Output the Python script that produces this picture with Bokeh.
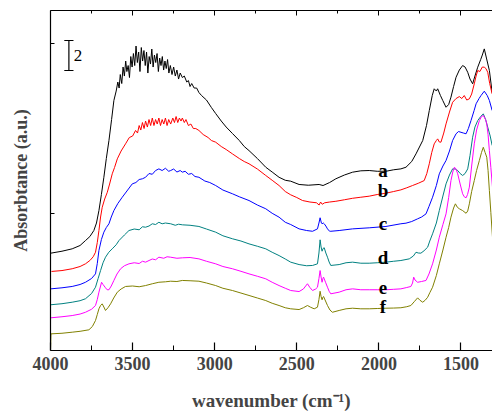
from bokeh.plotting import figure
from bokeh.models import Range1d, FixedTicker, LinearAxis
from bokeh.embed import file_html
from bokeh.resources import INLINE
from bokeh.core.properties import value

# ---------------- data (wavenumber in cm^-1, absorbance in a.u., stacked) ----------------
wn_a = [3998, 3930, 3868, 3820, 3787, 3760, 3736, 3720, 3705, 3690, 3675, 3660, 3644, 3628, 3614,
        3600, 3590, 3582, 3575, 3566, 3558, 3550, 3542, 3535, 3527, 3519, 3511, 3503, 3495, 3487,
        3479, 3471, 3463, 3455, 3447, 3439, 3431, 3423, 3415, 3407, 3399, 3391, 3383, 3375, 3367,
        3359, 3351, 3343, 3335, 3327, 3319, 3311, 3303, 3295, 3287, 3279, 3270, 3260, 3250, 3240,
        3230, 3220, 3210, 3197, 3185, 3170, 3160, 3150, 3140, 3125, 3110, 3096, 3080, 3050, 3020,
        2994, 2960, 2930, 2892, 2850, 2820, 2791, 2740, 2689, 2650, 2608, 2570, 2537, 2486, 2430,
        2364, 2340, 2300, 2262, 2210, 2160, 2110, 2059, 2010, 1957, 1910, 1866, 1835, 1800, 1774,
        1733, 1710, 1693, 1675, 1663, 1650, 1642, 1625, 1611, 1591, 1575, 1561, 1545, 1530, 1510,
        1490, 1475, 1459, 1445, 1429, 1415, 1398, 1380, 1370, 1358, 1345, 1327, 1310]
abs_a = [6.49, 6.62, 6.78, 7.0, 7.33, 7.6, 8.0, 8.5, 9.33, 10.4, 11.55, 12.8, 14.0, 15.4, 16.67,
         17.3, 17.9, 17.5, 18.4, 17.8, 18.9, 18.3, 19.3, 18.6, 19.0, 18.2, 19.6, 18.9, 19.8, 19.0,
         20.3, 19.2, 19.9, 18.6, 20.2, 19.3, 20.0, 19.0, 19.9, 18.5, 19.6, 19.1, 20.1, 18.9, 19.7,
         19.2, 19.8, 18.6, 19.5, 19.0, 19.6, 18.7, 19.3, 18.8, 19.4, 18.5, 19.0, 18.4, 18.9, 18.3,
         18.7, 18.1, 18.5, 18.2, 18.3, 17.9, 18.0, 17.6, 17.8, 17.5, 17.5, 17.2, 17.0, 16.7, 16.2,
         15.8, 15.3, 14.9, 14.47, 14.0, 13.6, 13.33, 12.8, 12.22, 11.9, 11.55, 11.35, 11.29, 11.07, 11.02,
         11.07, 11.0, 11.2, 11.45, 11.7, 11.89, 11.98, 12.0, 11.95, 11.95, 12.05, 12.11, 12.22, 12.6, 13.11,
         14.0, 15.0, 16.0, 17.0, 17.45, 17.3, 17.45, 17.0, 16.67, 16.22, 16.4, 16.89, 17.6, 18.22, 18.7,
         19.0, 18.9, 18.55, 18.1, 17.78, 18.3, 18.89, 19.4, 19.7, 20.11, 19.5, 18.67, 17.2]

wn_b = [3994, 3930, 3868, 3820, 3787, 3760, 3740, 3726, 3715, 3705, 3695, 3685, 3670, 3654, 3640,
        3624, 3610, 3593, 3570, 3543, 3520, 3500, 3482, 3470, 3460, 3450, 3440, 3430, 3421, 3410,
        3400, 3390, 3380, 3370, 3360, 3350, 3340, 3330, 3320, 3310, 3300, 3290, 3280, 3268, 3255,
        3245, 3235, 3225, 3215, 3205, 3197, 3185, 3175, 3160, 3145, 3130, 3115, 3096, 3070, 3040,
        3020, 2994, 2960, 2930, 2892, 2850, 2820, 2791, 2740, 2689, 2650, 2608, 2570, 2537, 2500,
        2465, 2420, 2380, 2364, 2355, 2345, 2330, 2300, 2262, 2210, 2160, 2110, 2059, 2010, 1957,
        1910, 1866, 1830, 1795, 1760, 1724, 1708, 1693, 1678, 1663, 1650, 1642, 1632, 1622, 1605,
        1591, 1570, 1551, 1530, 1510, 1495, 1480, 1465, 1449, 1435, 1419, 1408, 1398, 1385, 1370,
        1358, 1348, 1337, 1325, 1310]
abs_b = [5.27, 5.33, 5.45, 5.6, 5.78, 6.0, 6.25, 6.55, 7.2, 8.0, 8.9, 9.55, 10.1, 10.55, 11.1,
         11.78, 12.2, 12.78, 13.3, 13.78, 14.2, 14.3, 14.67, 14.5, 15.0, 14.7, 15.2, 14.8, 15.3, 14.9,
         15.4, 15.0, 15.5, 15.0, 15.4, 15.1, 15.5, 15.0, 15.4, 15.1, 15.5, 15.0, 15.4, 15.1, 15.5,
         15.2, 15.6, 15.2, 15.5, 15.3, 15.5, 15.2, 15.4, 15.0, 15.1, 14.8, 14.8, 14.67, 14.4, 14.2,
         14.0, 13.89, 13.6, 13.4, 13.11, 12.8, 12.6, 12.45, 12.1, 11.67, 11.35, 11.0, 10.6, 10.38, 10.2,
         10.0, 9.9, 9.85, 9.7, 9.9, 9.75, 9.85, 9.9, 9.95, 10.05, 10.15, 10.22, 10.29, 10.4, 10.49,
         10.6, 10.71, 10.85, 11.0, 11.15, 11.33, 11.8, 12.45, 13.2, 13.78, 14.0, 14.11, 13.9, 13.89, 14.5,
         15.11, 15.9, 16.55, 16.8, 16.93, 16.8, 17.0, 16.7, 16.78, 17.1, 17.78, 18.3, 18.67, 18.6, 18.9,
         18.89, 18.8, 18.55, 17.8, 17.11]

wn_c = [3998, 3930, 3868, 3820, 3787, 3750, 3726, 3715, 3705, 3690, 3675, 3660, 3644, 3630, 3614,
        3590, 3563, 3530, 3502, 3480, 3460, 3440, 3421, 3400, 3380, 3360, 3340, 3320, 3300, 3280,
        3268, 3250, 3230, 3210, 3197, 3180, 3160, 3140, 3120, 3096, 3060, 3030, 2994, 2950, 2892,
        2850, 2791, 2740, 2689, 2650, 2608, 2570, 2537, 2486, 2440, 2404, 2374, 2365, 2358, 2350,
        2346, 2338, 2333, 2323, 2313, 2300, 2293, 2242, 2160, 2059, 1957, 1866, 1835, 1800, 1764,
        1740, 1713, 1695, 1673, 1650, 1632, 1610, 1591, 1570, 1551, 1530, 1515, 1500, 1485, 1469,
        1455, 1439, 1420, 1408, 1390, 1378, 1358, 1340, 1327, 1310]
abs_c = [4.11, 4.18, 4.27, 4.4, 4.55, 4.8, 5.11, 5.8, 6.67, 7.4, 7.89, 8.2, 8.45, 8.9, 9.33,
         9.8, 10.22, 10.7, 11.11, 11.2, 11.4, 11.45, 11.55, 11.8, 11.75, 12.0, 12.11, 12.0, 12.15, 11.95,
         12.0, 12.1, 11.9, 12.0, 11.89, 11.95, 11.75, 11.8, 11.6, 11.55, 11.3, 11.2, 11.0, 10.7, 10.45,
         10.25, 10.0, 9.7, 9.45, 9.15, 8.89, 8.55, 8.4, 8.11, 8.0, 7.95, 8.11, 8.5, 8.85, 8.5,
         8.45, 8.5, 8.45, 8.3, 8.11, 7.95, 7.95, 8.0, 8.11, 8.18, 8.27, 8.45, 8.49, 8.6, 8.78,
         8.9, 9.11, 9.6, 10.22, 11.0, 11.78, 12.3, 12.67, 13.3, 14.0, 14.45, 14.6, 14.55, 14.5, 14.45,
         14.8, 15.33, 16.0, 16.45, 16.8, 17.0, 17.29, 17.0, 16.67, 16.0]

wn_d = [3998, 3930, 3868, 3820, 3787, 3750, 3726, 3710, 3695, 3680, 3665, 3645, 3624, 3600, 3583,
        3550, 3522, 3490, 3460, 3440, 3421, 3400, 3380, 3360, 3340, 3320, 3300, 3268, 3240, 3220,
        3197, 3150, 3096, 3050, 2994, 2950, 2892, 2840, 2791, 2740, 2689, 2650, 2608, 2570, 2537,
        2486, 2440, 2404, 2374, 2365, 2358, 2352, 2346, 2340, 2333, 2323, 2313, 2303, 2293, 2242,
        2200, 2160, 2110, 2059, 2010, 1957, 1910, 1866, 1815, 1790, 1774, 1760, 1744, 1725, 1703,
        1690, 1673, 1650, 1632, 1610, 1591, 1570, 1551, 1535, 1520, 1505, 1490, 1475, 1459, 1445,
        1429, 1415, 1398, 1380, 1364, 1350, 1337, 1322, 1310]
abs_d = [3.05, 3.12, 3.22, 3.32, 3.45, 3.8, 4.22, 4.8, 5.33, 5.85, 6.22, 6.55, 6.78, 7.05, 7.33,
         7.7, 8.0, 8.1, 8.05, 8.25, 8.22, 8.3, 8.45, 8.4, 8.55, 8.45, 8.5, 8.45, 8.35, 8.42,
         8.38, 8.35, 8.27, 8.1, 7.89, 7.65, 7.45, 7.3, 7.11, 6.95, 6.78, 6.55, 6.33, 6.1, 5.89,
         5.73, 5.65, 5.67, 5.78, 6.5, 7.38, 6.9, 6.62, 6.8, 6.85, 6.5, 6.22, 5.9, 5.67, 5.73,
         5.85, 5.89, 5.82, 5.82, 5.85, 5.89, 5.95, 6.0, 6.11, 6.3, 6.55, 6.5, 6.49, 6.65, 6.89,
         7.3, 7.78, 8.5, 9.33, 10.3, 11.11, 11.7, 12.11, 12.1, 12.0, 11.8, 11.67, 11.8, 12.11, 13.0,
         14.22, 14.9, 15.33, 15.6, 15.78, 15.4, 14.89, 14.3, 13.67]

wn_e = [3998, 3930, 3868, 3820, 3787, 3750, 3726, 3715, 3705, 3695, 3689, 3680, 3665, 3655, 3644,
        3630, 3614, 3595, 3573, 3550, 3522, 3490, 3460, 3440, 3421, 3400, 3380, 3360, 3340, 3310,
        3290, 3268, 3230, 3197, 3150, 3096, 3050, 2994, 2950, 2892, 2840, 2791, 2740, 2689, 2650,
        2608, 2570, 2537, 2486, 2460, 2435, 2420, 2404, 2385, 2374, 2365, 2358, 2352, 2346, 2341,
        2337, 2325, 2313, 2303, 2293, 2242, 2200, 2160, 2110, 2059, 2010, 1957, 1910, 1866, 1830,
        1805, 1795, 1788, 1780, 1764, 1740, 1713, 1695, 1673, 1650, 1632, 1610, 1591, 1575, 1561,
        1550, 1540, 1530, 1520, 1505, 1490, 1480, 1469, 1460, 1449, 1435, 1419, 1405, 1388, 1375,
        1364, 1350, 1343, 1335, 1327, 1318, 1308]
abs_e = [2.18, 2.25, 2.33, 2.43, 2.55, 2.75, 3.0, 3.4, 3.89, 4.3, 4.55, 4.4, 4.18, 4.05, 4.05,
         4.3, 4.67, 5.1, 5.45, 5.65, 5.78, 5.85, 5.8, 5.95, 5.89, 6.0, 6.1, 6.05, 6.22, 6.15,
         6.25, 6.22, 6.15, 6.18, 6.2, 6.11, 5.95, 5.78, 5.6, 5.45, 5.28, 5.11, 4.95, 4.78, 4.55,
         4.33, 4.15, 4.0, 3.93, 4.1, 4.45, 4.2, 4.0, 4.1, 4.22, 4.8, 5.33, 4.9, 4.55, 4.8,
         4.89, 4.55, 4.22, 3.95, 3.78, 3.89, 4.05, 4.11, 4.05, 4.05, 4.05, 4.05, 4.08, 4.11, 4.2,
         4.27, 4.5, 4.89, 4.7, 4.55, 4.6, 4.67, 5.1, 5.78, 6.7, 7.55, 8.4, 9.11, 10.2, 11.33,
         11.9, 12.22, 12.1, 11.78, 11.1, 10.45, 10.25, 10.18, 10.4, 10.89, 12.3, 13.78, 14.7, 15.33, 15.6,
         15.67, 15.4, 15.11, 14.4, 13.33, 12.2, 10.89]

wn_f = [4000, 3997, 3930, 3868, 3820, 3766, 3745, 3726, 3715, 3705, 3695, 3685, 3675, 3665, 3650,
        3634, 3615, 3593, 3570, 3543, 3500, 3460, 3421, 3380, 3340, 3300, 3268, 3230, 3197, 3150,
        3096, 3050, 2994, 2950, 2892, 2840, 2791, 2740, 2689, 2650, 2608, 2570, 2537, 2486, 2460,
        2435, 2415, 2394, 2374, 2365, 2358, 2352, 2346, 2341, 2337, 2325, 2313, 2298, 2283, 2242,
        2200, 2160, 2110, 2059, 2010, 1957, 1910, 1866, 1830, 1805, 1785, 1764, 1750, 1733, 1718,
        1703, 1690, 1673, 1650, 1632, 1610, 1591, 1575, 1561, 1545, 1534, 1522, 1510, 1490, 1469,
        1459, 1449, 1435, 1419, 1405, 1388, 1375, 1364, 1353, 1343, 1335, 1327, 1318, 1308]
abs_f = [0.0, 1.11, 1.15, 1.22, 1.28, 1.38, 1.6, 2.0, 2.4, 2.78, 3.0, 3.11, 2.9, 2.67, 2.85,
         3.11, 3.5, 3.89, 4.1, 4.27, 4.3, 4.25, 4.33, 4.45, 4.55, 4.58, 4.62, 4.6, 4.67, 4.65,
         4.62, 4.5, 4.33, 4.15, 4.0, 3.83, 3.67, 3.5, 3.33, 3.15, 3.0, 2.85, 2.78, 2.73, 2.85,
         3.0, 2.88, 2.78, 2.89, 3.4, 3.95, 3.6, 3.38, 3.55, 3.6, 3.3, 3.0, 2.7, 2.55, 2.67,
         2.78, 2.82, 2.78, 2.78, 2.8, 2.82, 2.83, 2.85, 2.92, 3.0, 3.25, 3.51, 3.35, 3.22, 3.35,
         3.55, 3.85, 4.22, 5.0, 5.78, 6.7, 7.55, 8.2, 8.89, 9.5, 9.78, 9.55, 9.45, 9.33, 9.15,
         9.3, 9.78, 10.6, 11.33, 12.0, 12.67, 13.2, 13.55, 13.2, 12.89, 12.0, 10.67, 9.2, 7.55]

series_names = ["a", "b", "c", "d", "e", "f"]
series_colors = ["#000000", "#FF0000", "#0000FF", "#008080", "#FF00FF", "#808000"]
label_wn = [1975, 1975, 1975, 1975, 1975, 1975]
label_abs = [12.0, 10.67, 8.49, 6.22, 4.22, 2.95]

x_major = [4000, 3500, 3000, 2500, 2000, 1500]
x_minor = [3750, 3250, 2750, 2250, 1750]
y_ticks = [9.13, 20.47]

scale_wn = 3888
scale_base = 18.67
scale_len = 2
scale_text = "2"

# ---------------- figure ----------------
FONT = "Liberation Serif"
p = figure(width=492, height=413, output_backend="svg", toolbar_location=None,
           x_range=Range1d(4000, 1308), y_range=Range1d(0, 22.67),
           min_border_left=50, min_border_right=0, min_border_top=10, min_border_bottom=63,
           x_axis_label="wavenumber (cm\u207b\u00b9)", y_axis_label="Absorbtance (a.u.)")
p.outline_line_color = None
p.xgrid.visible = False
p.ygrid.visible = False
p.background_fill_color = "white"
p.border_fill_color = "white"

xs = [wn_a, wn_b, wn_c, wn_d, wn_e, wn_f]
ys = [abs_a, abs_b, abs_c, abs_d, abs_e, abs_f]
for xv, yv, col in zip(xs, ys, series_colors):
    p.line(xv, yv, line_color=col, line_width=1)

p.text(x=label_wn, y=label_abs, text=series_names, text_font=value(FONT),
       text_font_style="bold", text_font_size="19px", text_align="center",
       text_baseline="alphabetic", text_color="black")

# scale bar
p.segment(x0=[scale_wn], y0=[scale_base], x1=[scale_wn], y1=[scale_base + scale_len],
          line_color="black", line_width=1.2)
p.segment(x0=[scale_wn + 28, scale_wn + 28], y0=[scale_base, scale_base + scale_len],
          x1=[scale_wn - 28, scale_wn - 28], y1=[scale_base, scale_base + scale_len],
          line_color="black", line_width=1.2)
p.text(x=[scale_wn - 30], y=[scale_base + scale_len / 2], text=[scale_text],
       text_font=value(FONT), text_font_size="17px", text_align="left",
       text_baseline="middle", text_color="black")

# bottom axis
xa = p.xaxis[0]
xa.ticker = FixedTicker(ticks=x_major, minor_ticks=x_minor)
xa.major_tick_in = 8
xa.major_tick_out = 0
xa.minor_tick_in = 5
xa.minor_tick_out = 0
xa.axis_line_width = 1.2
xa.major_tick_line_width = 1.2
xa.major_label_text_font = FONT
xa.major_label_text_font_style = "bold"
xa.major_label_text_font_size = "18px"
xa.major_label_standoff = 6
xa.axis_label_text_font = FONT
xa.axis_label_text_font_style = "bold"
xa.axis_label_text_font_size = "19px"
xa.axis_label_standoff = 17

# left axis
ya = p.yaxis[0]
ya.ticker = FixedTicker(ticks=y_ticks, minor_ticks=[])
ya.major_tick_in = 4
ya.major_tick_out = 0
ya.minor_tick_in = 0
ya.minor_tick_out = 0
ya.axis_line_width = 1.2
ya.major_label_text_font_size = "0px"
ya.major_label_overrides = {t: "" for t in y_ticks}
ya.major_label_standoff = 0
ya.axis_label_text_font = FONT
ya.axis_label_text_font_style = "bold"
ya.axis_label_text_font_size = "18px"
ya.axis_label_standoff = 20

# top axis
top = LinearAxis(ticker=FixedTicker(ticks=x_major, minor_ticks=x_minor))
top.major_tick_in = 5
top.major_tick_out = 0
top.minor_tick_in = 3
top.minor_tick_out = 0
top.axis_line_width = 1.2
top.major_label_text_font_size = "0px"
top.major_label_overrides = {t: "" for t in x_major}
top.major_label_standoff = 0
p.add_layout(top, "above")

open("out.html", "w").write(file_html(p, INLINE))
